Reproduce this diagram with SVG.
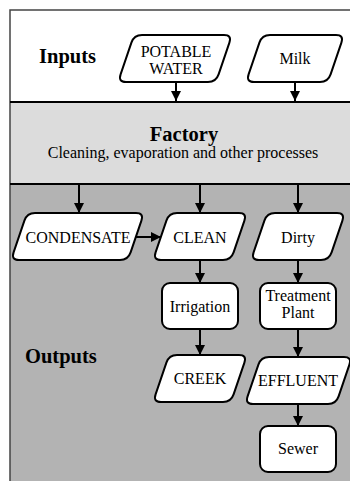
<svg xmlns="http://www.w3.org/2000/svg" width="350" height="481" viewBox="0 0 350 481" font-family="Liberation Serif, DejaVu Serif, serif">
<style>
text{fill:#000}
.lbl{font-size:16px;text-anchor:middle}
.hd{font-size:20.5px;font-weight:bold}
.nd{fill:#fff;stroke:#000;stroke-width:2}
.cn{stroke:#000;stroke-width:2;fill:none}
</style>
<defs>
<marker id="ah" markerWidth="10" markerHeight="10" refX="10" refY="5" orient="auto" markerUnits="userSpaceOnUse">
<path d="M0,0 L10,5 L0,10 Z" fill="#000"/>
</marker>
</defs>
<g id="bands">
<rect x="10" y="10" width="345" height="92" fill="#fff"/>
<rect x="10" y="102" width="345" height="82" fill="#dcdcdc"/>
<rect x="10" y="184" width="345" height="300" fill="#b3b3b3"/>
<path d="M10,481 V10 H350" fill="none" stroke="#444" stroke-width="1.5"/>
<line x1="10" y1="102" x2="350" y2="102" stroke="#000" stroke-width="2"/>
<line x1="10" y1="184" x2="350" y2="184" stroke="#000" stroke-width="2"/>
<text class="hd" x="39" y="63">Inputs</text>
<text class="hd" x="184" y="141" text-anchor="middle">Factory</text>
<text class="lbl" x="183" y="158">Cleaning, evaporation and other processes</text>
<text class="hd" x="25" y="363">Outputs</text>
</g>
<g id="potable">
<path class="nd" d="M142,35 L224,35 Q232,35 229.4,42.6 L218.6,74.4 Q216,82 208,82 L126,82 Q118,82 120.6,74.4 L131.4,42.6 Q134,35 142,35 Z"/>
<text class="lbl" x="176" y="57">POTABLE</text>
<text class="lbl" x="176" y="74">WATER</text>
</g>
<g id="milk">
<path class="nd" d="M270,35 L336,35 Q344,35 341.4,42.6 L330.6,74.4 Q328,82 320,82 L254,82 Q246,82 248.6,74.4 L259.4,42.6 Q262,35 270,35 Z"/>
<text class="lbl" x="295" y="64">Milk</text>
</g>
<g id="condensate">
<path class="nd" d="M35,213 L136,213 Q144,213 141.4,220.6 L130.6,252.4 Q128,260 120,260 L19,260 Q11,260 13.6,252.4 L24.4,220.6 Q27,213 35,213 Z"/>
<text class="lbl" x="78" y="243">CONDENSATE</text>
</g>
<g id="clean">
<path class="nd" d="M177,213 L239,213 Q247,213 244.4,220.6 L233.6,252.4 Q231,260 223,260 L161,260 Q153,260 155.6,252.4 L166.4,220.6 Q169,213 177,213 Z"/>
<text class="lbl" x="200" y="243">CLEAN</text>
</g>
<g id="dirty">
<path class="nd" d="M275,213 L337,213 Q345,213 342.4,220.6 L331.6,252.4 Q329,260 321,260 L259,260 Q251,260 253.6,252.4 L264.4,220.6 Q267,213 275,213 Z"/>
<text class="lbl" x="298" y="243">Dirty</text>
</g>
<g id="irrigation">
<rect class="nd" x="162" y="283" width="76" height="46" rx="8"/>
<text class="lbl" x="200" y="312">Irrigation</text>
</g>
<g id="treatment">
<rect class="nd" x="260" y="283" width="76" height="46" rx="8"/>
<text class="lbl" x="298" y="301">Treatment</text>
<text class="lbl" x="298" y="318">Plant</text>
</g>
<g id="creek">
<path class="nd" d="M177,355 L239,355 Q247,355 244.4,362.6 L233.6,394.4 Q231,402 223,402 L161,402 Q153,402 155.6,394.4 L166.4,362.6 Q169,355 177,355 Z"/>
<text class="lbl" x="200" y="384">CREEK</text>
</g>
<g id="effluent">
<path class="nd" d="M269,357 L344,357 Q352,357 349.4,364.6 L338.6,396.4 Q336,404 328,404 L253,404 Q245,404 247.6,396.4 L258.4,364.6 Q261,357 269,357 Z"/>
<text class="lbl" x="298" y="386">EFFLUENT</text>
</g>
<g id="sewer">
<rect class="nd" x="260" y="426" width="76" height="46" rx="8"/>
<text class="lbl" x="298" y="454">Sewer</text>
</g>
<g id="connectors">
<line class="cn" x1="176" y1="82" x2="176" y2="101" marker-end="url(#ah)"/>
<line class="cn" x1="295" y1="82" x2="295" y2="101" marker-end="url(#ah)"/>
<line class="cn" x1="79" y1="184" x2="79" y2="213" marker-end="url(#ah)"/>
<line class="cn" x1="200" y1="184" x2="200" y2="213" marker-end="url(#ah)"/>
<line class="cn" x1="298" y1="184" x2="298" y2="213" marker-end="url(#ah)"/>
<line class="cn" x1="136" y1="237" x2="161" y2="237" marker-end="url(#ah)"/>
<line class="cn" x1="200" y1="260" x2="200" y2="283" marker-end="url(#ah)"/>
<line class="cn" x1="298" y1="260" x2="298" y2="283" marker-end="url(#ah)"/>
<line class="cn" x1="200" y1="329" x2="200" y2="355" marker-end="url(#ah)"/>
<line class="cn" x1="298" y1="329" x2="298" y2="357" marker-end="url(#ah)"/>
<line class="cn" x1="298" y1="404" x2="298" y2="426" marker-end="url(#ah)"/>
</g>
</svg>
